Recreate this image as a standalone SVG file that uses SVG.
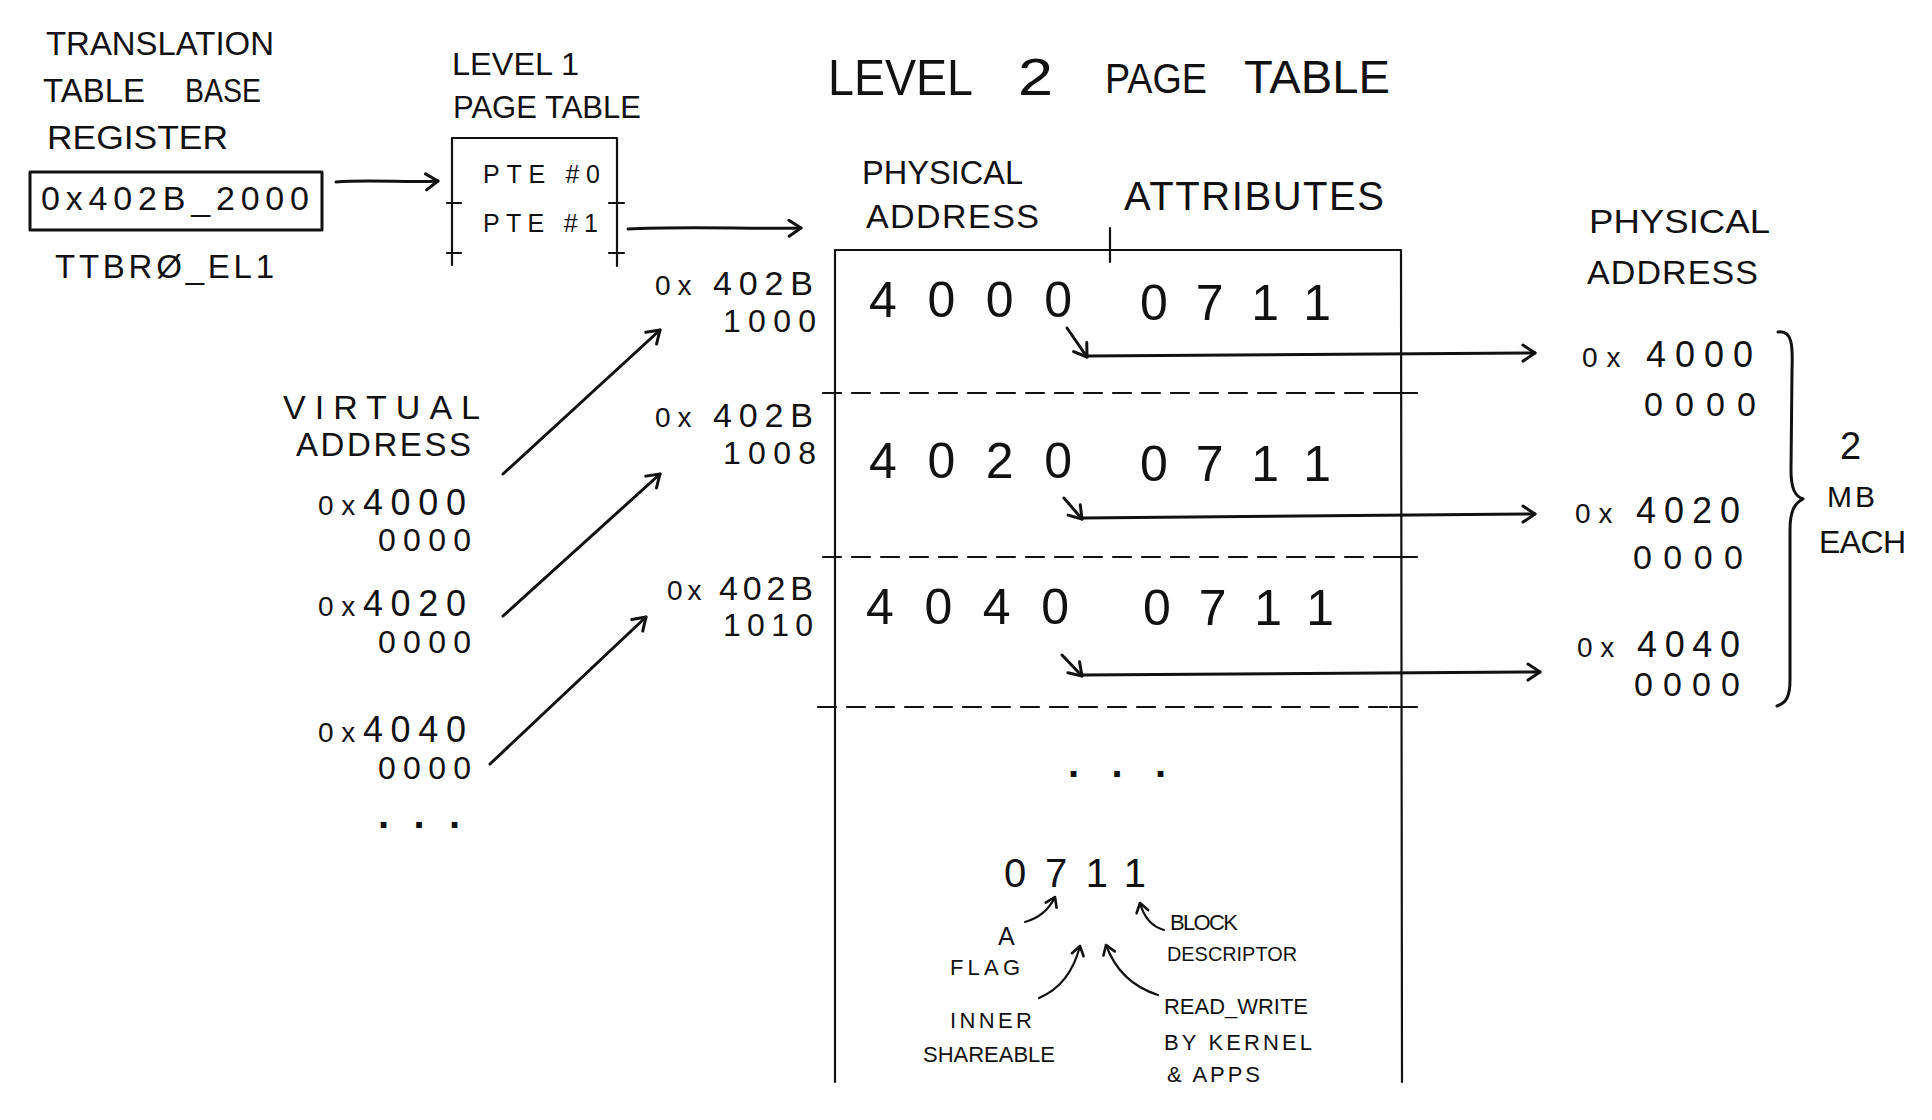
<svg xmlns="http://www.w3.org/2000/svg" width="1932" height="1120" viewBox="0 0 1932 1120">
<style>
text { font-family: "Liberation Sans", Arial, sans-serif; fill: #111; }
.ln { stroke: #111; stroke-width: 3; fill: none; stroke-linecap: round; stroke-linejoin: round; }
.thin { stroke: #111; stroke-width: 2.2; fill: none; stroke-linecap: round; }
.dash { stroke-dasharray: 18 11; }
.arr { marker-end: url(#ah); }
.arrs { marker-end: url(#ahs); }
</style>
<defs>
<marker id="ah" viewBox="0 0 20 20" markerWidth="20" markerHeight="20" refX="15" refY="10" orient="auto" markerUnits="userSpaceOnUse">
<path d="M3,2 L15,10 L3,18" fill="none" stroke="#111" stroke-width="3" stroke-linecap="round" stroke-linejoin="round"/>
</marker>
<marker id="ahs" viewBox="0 0 16 16" markerWidth="16" markerHeight="16" refX="12" refY="8" orient="auto" markerUnits="userSpaceOnUse">
<path d="M3,2 L12,8 L3,14" fill="none" stroke="#111" stroke-width="2.6" stroke-linecap="round" stroke-linejoin="round"/>
</marker>
</defs>
<rect x="0" y="0" width="1932" height="1120" fill="#fff"/>

<g id="ttbr">
<text x="46" y="55" font-size="33" textLength="228" lengthAdjust="spacingAndGlyphs">TRANSLATION</text>
<text x="43" y="102" font-size="33" textLength="102" lengthAdjust="spacingAndGlyphs">TABLE</text>
<text x="185" y="102" font-size="33" textLength="76" lengthAdjust="spacingAndGlyphs">BASE</text>
<text x="47" y="149" font-size="33" textLength="181" lengthAdjust="spacingAndGlyphs">REGISTER</text>
<rect x="30" y="172" width="292" height="58" class="ln"/>
<text x="41" y="210" font-size="34" textLength="268">0x402B_2000</text>
<text x="55" y="278" font-size="33" textLength="219">TTBRØ_EL1</text>
</g>

<g id="level1-page-table">
<text x="452" y="75" font-size="31" textLength="127" lengthAdjust="spacingAndGlyphs">LEVEL 1</text>
<text x="453" y="118" font-size="31" textLength="188" lengthAdjust="spacingAndGlyphs">PAGE TABLE</text>
<path class="thin" d="M452,138 L617,138 M452,138 L452,265 M617,138 L617,266 M447,203 L461,203 M609,203 L624,203 M447,253 L461,253 M609,253 L624,253"/>
<text x="483" y="183" font-size="25" textLength="117">PTE #0</text>
<text x="483" y="232" font-size="25" textLength="115">PTE #1</text>
</g>

<g id="level2-page-table">
<text x="828" y="95" font-size="50" textLength="145" lengthAdjust="spacingAndGlyphs">LEVEL</text>
<text x="1018" y="95" font-size="52" textLength="35" lengthAdjust="spacingAndGlyphs">2</text>
<text x="1105" y="93" font-size="43" textLength="102" lengthAdjust="spacingAndGlyphs">PAGE</text>
<text x="1244" y="93" font-size="47" textLength="146" lengthAdjust="spacingAndGlyphs">TABLE</text>
<text x="862" y="184" font-size="34" textLength="161" lengthAdjust="spacingAndGlyphs">PHYSICAL</text>
<text x="866" y="228" font-size="34" textLength="173">ADDRESS</text>
<text x="1124" y="210" font-size="40" textLength="260">ATTRIBUTES</text>
<path class="thin" d="M835,250 L1401,250 M1110,228 L1110,262 M835,250 L835,1082 M1401,250 L1402,1082"/>
<path class="thin dash" d="M823,393 L1390,393 M823,557 L1390,557 M818,707 L1390,707"/>
<path class="thin" d="M1390,393 L1417,393 M1390,557 L1417,557 M1390,707 L1417,707"/>
<text x="869" y="317" font-size="50" textLength="203">4000</text>
<text x="1140" y="320" font-size="50" textLength="191">0711</text>
<text x="869" y="478" font-size="50" textLength="203">4020</text>
<text x="1140" y="481" font-size="50" textLength="191">0711</text>
<text x="866" y="624" font-size="50" textLength="203">4040</text>
<text x="1143" y="625" font-size="50" textLength="191">0711</text>
<text x="1068" y="777" font-size="40" font-weight="bold" textLength="98">...</text>
</g>

<g id="level2-addresses">
<text x="655" y="295" font-size="34" textLength="158"><tspan font-size="28">0x </tspan>402B</text>
<text x="723" y="332" font-size="32" textLength="93">1000</text>
<text x="655" y="427" font-size="34" textLength="158"><tspan font-size="28">0x </tspan>402B</text>
<text x="723" y="464" font-size="32" textLength="93">1008</text>
<text x="667" y="600" font-size="34" textLength="146"><tspan font-size="28">0x </tspan>402B</text>
<text x="723" y="636" font-size="32" textLength="90">1010</text>
</g>

<g id="virtual-address">
<text x="283" y="419" font-size="34" textLength="197">VIRTUAL</text>
<text x="296" y="456" font-size="33" textLength="175">ADDRESS</text>
<text x="318" y="515" font-size="36" textLength="148"><tspan font-size="28">0x</tspan>4000</text>
<text x="378" y="551" font-size="32" textLength="93">0000</text>
<text x="318" y="616" font-size="36" textLength="148"><tspan font-size="28">0x</tspan>4020</text>
<text x="378" y="653" font-size="32" textLength="93">0000</text>
<text x="318" y="742" font-size="36" textLength="148"><tspan font-size="28">0x</tspan>4040</text>
<text x="378" y="779" font-size="32" textLength="93">0000</text>
<text x="378" y="828" font-size="40" font-weight="bold" textLength="82">...</text>
</g>

<g id="physical-address">
<text x="1589" y="233" font-size="34" textLength="181" lengthAdjust="spacingAndGlyphs">PHYSICAL</text>
<text x="1587" y="284" font-size="34" textLength="171">ADDRESS</text>
<text x="1582" y="367" font-size="36" textLength="171"><tspan font-size="28">0x </tspan>4000</text>
<text x="1644" y="416" font-size="34" textLength="112">0000</text>
<text x="1575" y="523" font-size="36" textLength="165"><tspan font-size="28">0x </tspan>4020</text>
<text x="1633" y="569" font-size="34" textLength="110">0000</text>
<text x="1577" y="657" font-size="36" textLength="163"><tspan font-size="28">0x </tspan>4040</text>
<text x="1634" y="696" font-size="34" textLength="106">0000</text>
<path class="ln" d="M1778,332 C1792,330 1793,345 1792,370 L1791,470 C1791,489 1795,496 1803,499 C1795,503 1790,510 1790,530 L1790,680 C1790,697 1786,703 1777,706"/>
<text x="1840" y="459" font-size="38">2</text>
<text x="1827" y="507" font-size="30" textLength="48">MB</text>
<text x="1819" y="553" font-size="32" textLength="87">EACH</text>
</g>

<g id="attribute-legend">
<text x="1004" y="887" font-size="40" textLength="142">0711</text>
<text x="998" y="945" font-size="25">A</text>
<text x="950" y="975" font-size="22" textLength="70">FLAG</text>
<text x="1170" y="930" font-size="22" textLength="68">BLOCK</text>
<text x="1167" y="961" font-size="21" textLength="130" lengthAdjust="spacingAndGlyphs">DESCRIPTOR</text>
<text x="950" y="1028" font-size="22" textLength="82">INNER</text>
<text x="923" y="1062" font-size="22" textLength="132" lengthAdjust="spacingAndGlyphs">SHAREABLE</text>
<text x="1164" y="1014" font-size="22" textLength="144" lengthAdjust="spacingAndGlyphs">READ_WRITE</text>
<text x="1164" y="1050" font-size="22" textLength="148">BY KERNEL</text>
<text x="1167" y="1082" font-size="22" textLength="93">&amp; APPS</text>
</g>

<g id="connectors">
<path class="ln arr" d="M336,182 C370,179 410,183 438,181"/>
<path class="ln arr" d="M628,229 C680,226 750,229 801,228"/>
<path class="ln arr" d="M503,474 L660,330"/>
<path class="ln arr" d="M503,616 L660,474"/>
<path class="ln arr" d="M490,764 L646,617"/>
<path class="ln arr" d="M1067,328 L1087,357"/>
<path class="ln arr" d="M1087,356 L1535,353"/>
<path class="ln arr" d="M1064,498 L1082,519"/>
<path class="ln arr" d="M1082,518 L1535,514"/>
<path class="ln arr" d="M1062,655 L1082,676"/>
<path class="ln arr" d="M1082,675 L1540,672"/>
<path class="thin arrs" d="M1025,922 Q1046,916 1055,897"/>
<path class="thin arrs" d="M1039,998 Q1070,985 1080,946"/>
<path class="thin arrs" d="M1158,995 Q1120,983 1106,945"/>
<path class="thin arrs" d="M1164,930 Q1146,925 1140,903"/>
</g>
</svg>
